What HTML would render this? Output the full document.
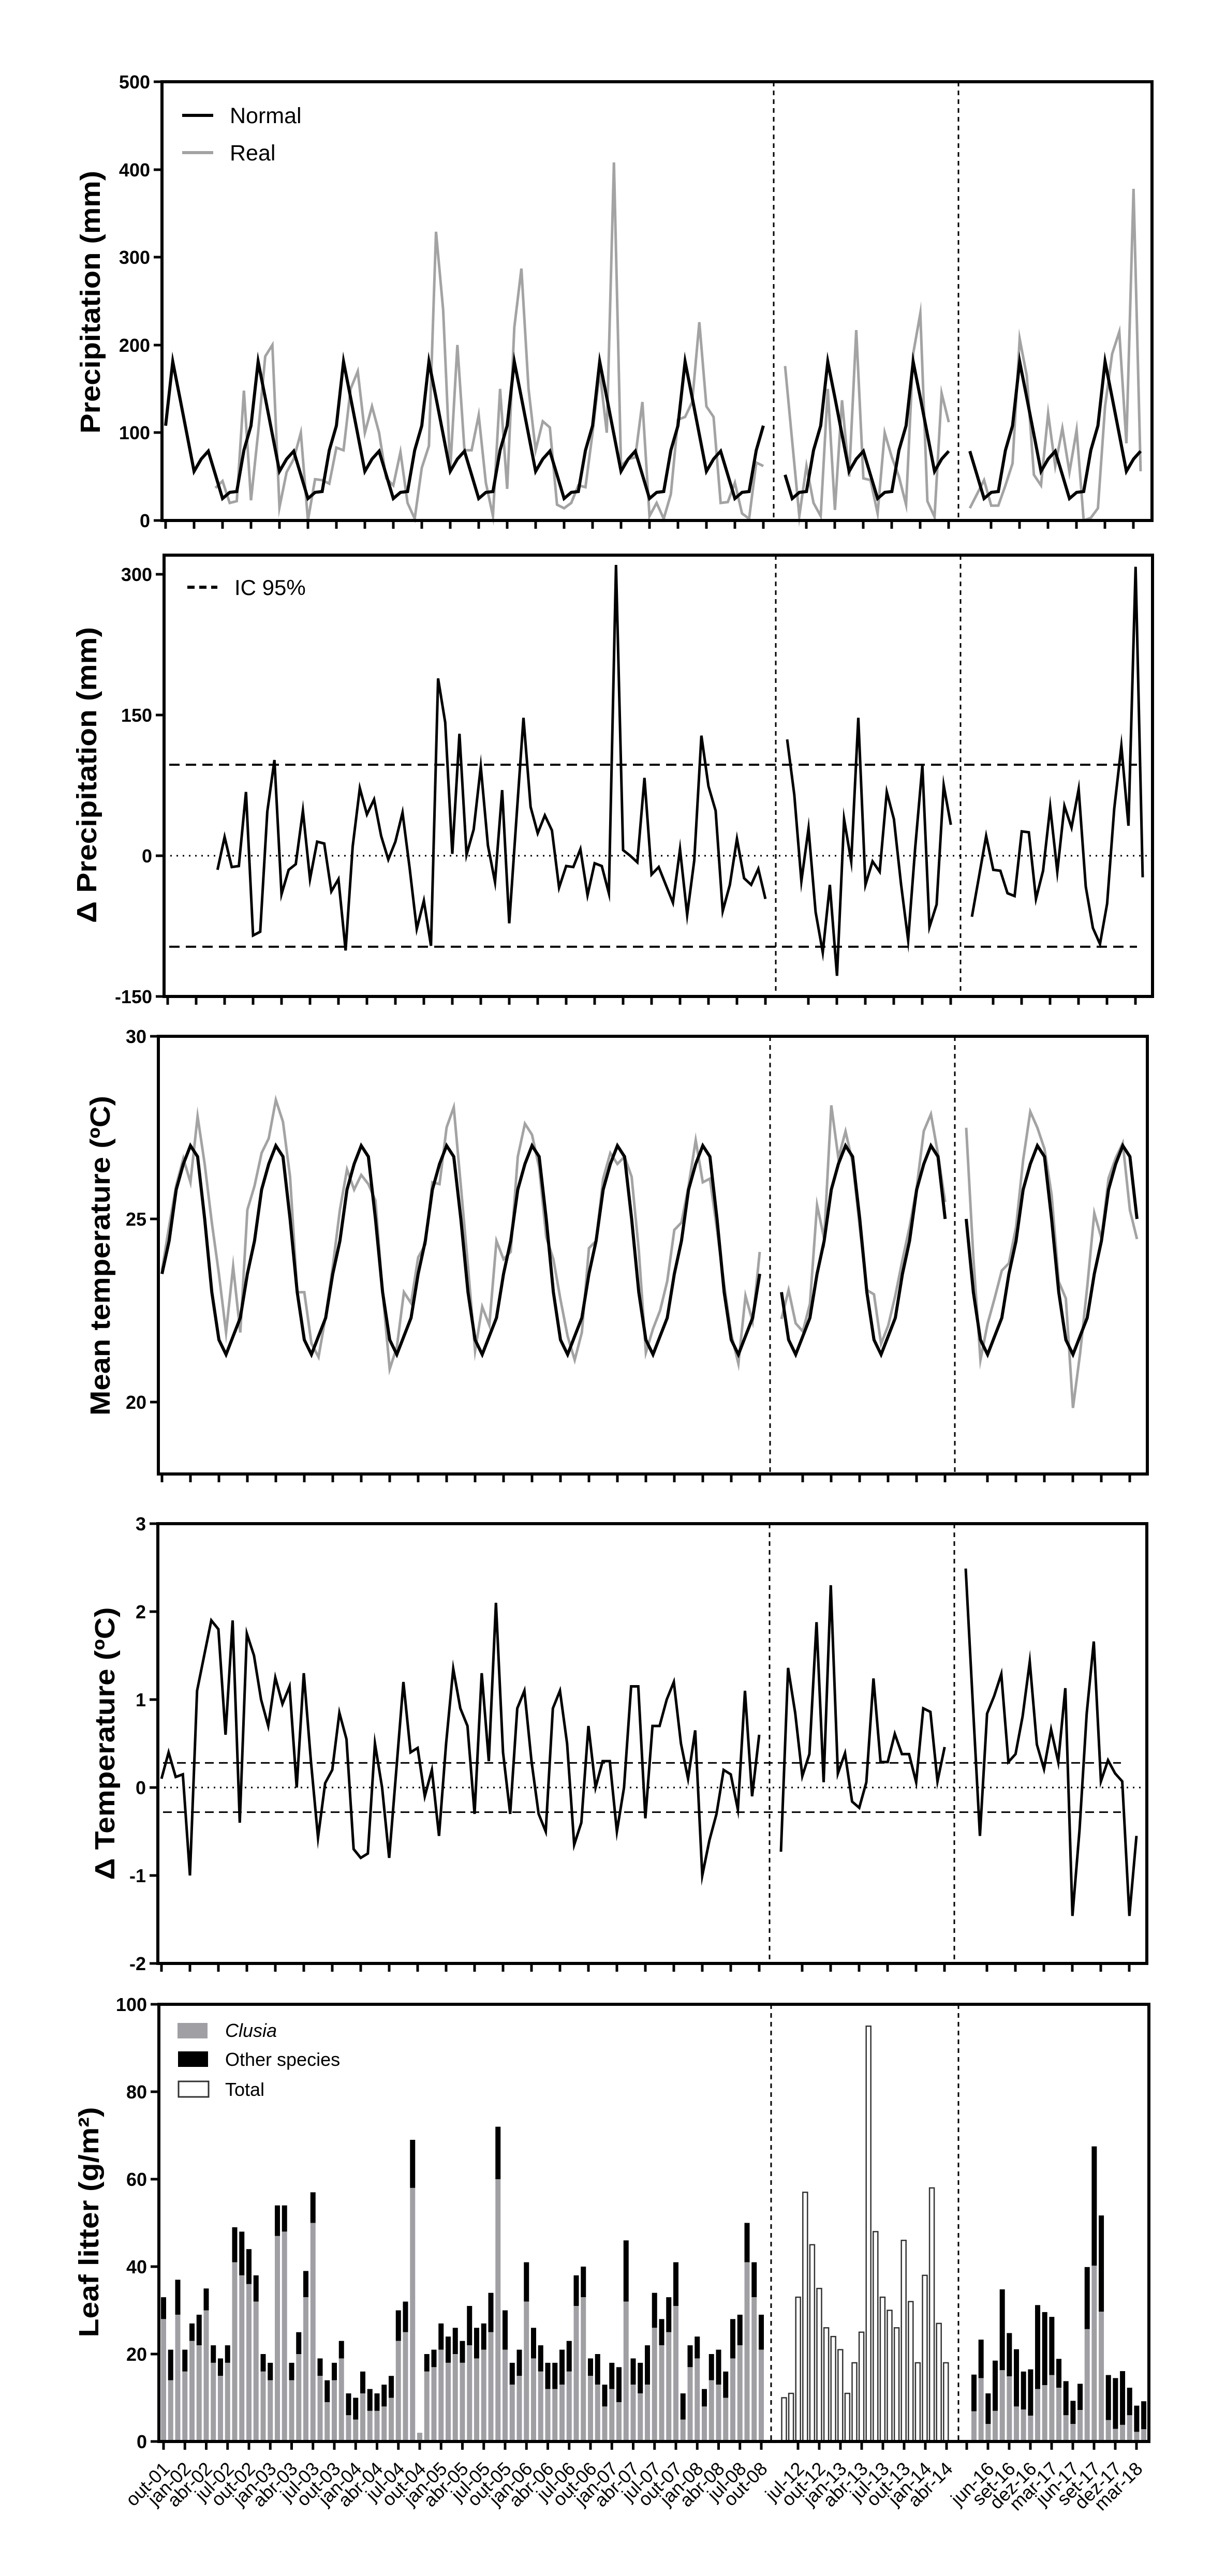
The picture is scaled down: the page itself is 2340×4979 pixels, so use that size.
<!DOCTYPE html>
<html><head><meta charset="utf-8">
<style>
html,body{margin:0;padding:0;background:#fff;}
svg{display:block;}
text{font-family:"Liberation Sans",Arial,sans-serif;}
.tl{font-size:36px;font-weight:bold;text-anchor:end;}
.tt{font-size:54px;font-weight:bold;text-anchor:middle;}
.xl{font-size:36px;text-anchor:end;}
</style></head>
<body>
<svg id="s" width="2340" height="4979" viewBox="0 0 2340 4979" xmlns="http://www.w3.org/2000/svg">
<rect width="2340" height="4979" fill="#fff"/>
<g id="g"></g>
<text class="tt" transform="translate(193,584) rotate(-90)" textLength="508" lengthAdjust="spacingAndGlyphs">Precipitation (mm)</text>
<text class="tt" transform="translate(186,1498) rotate(-90)" textLength="572" lengthAdjust="spacingAndGlyphs">Δ Precipitation (mm)</text>
<text class="tt" transform="translate(212,2427) rotate(-90)" textLength="618" lengthAdjust="spacingAndGlyphs">Mean temperature (ºC)</text>
<text class="tt" transform="translate(221,3370) rotate(-90)" textLength="527" lengthAdjust="spacingAndGlyphs">Δ Temperature (ºC)</text>
<text class="tt" transform="translate(190,4295) rotate(-90)" textLength="445" lengthAdjust="spacingAndGlyphs">Leaf litter (g/m²)</text>
<text class="tl" x="290" y="171">500</text>
<text class="tl" x="290" y="341">400</text>
<text class="tl" x="290" y="510">300</text>
<text class="tl" x="290" y="680">200</text>
<text class="tl" x="290" y="849">100</text>
<text class="tl" x="290" y="1019">0</text>
<text class="tl" x="294" y="1123">300</text>
<text class="tl" x="294" y="1395">150</text>
<text class="tl" x="294" y="1667">0</text>
<text class="tl" x="294" y="1939">-150</text>
<text class="tl" x="283" y="2016">30</text>
<text class="tl" x="283" y="2369">25</text>
<text class="tl" x="283" y="2723">20</text>
<text class="tl" x="282" y="2958">3</text>
<text class="tl" x="282" y="3128">2</text>
<text class="tl" x="282" y="3298">1</text>
<text class="tl" x="282" y="3468">0</text>
<text class="tl" x="282" y="3638">-1</text>
<text class="tl" x="282" y="3808">-2</text>
<text class="tl" x="284" y="3887">100</text>
<text class="tl" x="284" y="4056">80</text>
<text class="tl" x="284" y="4225">60</text>
<text class="tl" x="284" y="4394">40</text>
<text class="tl" x="284" y="4563">20</text>
<text class="tl" x="284" y="4732">0</text>
<line x1="352" y1="223" x2="412" y2="223" stroke="#000" stroke-width="6"/>
<text x="444" y="238" font-size="43">Normal</text>
<line x1="352" y1="295" x2="412" y2="295" stroke="#a3a3a3" stroke-width="6"/>
<text x="444" y="310" font-size="43">Real</text>
<line x1="362" y1="1135" x2="420" y2="1135" stroke="#000" stroke-width="6" stroke-dasharray="14,9"/>
<text x="453" y="1150" font-size="42">IC 95%</text>
<rect x="343" y="3910" width="58" height="30" fill="#a0a0a4"/>
<text x="435" y="3937" font-size="36" font-style="italic">Clusia</text>
<rect x="344" y="3965" width="58" height="30" fill="#000"/>
<text x="435" y="3993" font-size="36">Other species</text>
<rect x="345" y="4023" width="58" height="30" fill="#fff" stroke="#333" stroke-width="3"/>
<text x="435" y="4051" font-size="36">Total</text>
<g id="xl">
<text class="xl" transform="translate(330,4774) rotate(-45)">out-01</text>
<text class="xl" transform="translate(371,4774) rotate(-45)">jan-02</text>
<text class="xl" transform="translate(412,4774) rotate(-45)">abr-02</text>
<text class="xl" transform="translate(454,4774) rotate(-45)">jul-02</text>
<text class="xl" transform="translate(495,4774) rotate(-45)">out-02</text>
<text class="xl" transform="translate(536,4774) rotate(-45)">jan-03</text>
<text class="xl" transform="translate(577,4774) rotate(-45)">abr-03</text>
<text class="xl" transform="translate(619,4774) rotate(-45)">jul-03</text>
<text class="xl" transform="translate(660,4774) rotate(-45)">out-03</text>
<text class="xl" transform="translate(701,4774) rotate(-45)">jan-04</text>
<text class="xl" transform="translate(742,4774) rotate(-45)">abr-04</text>
<text class="xl" transform="translate(784,4774) rotate(-45)">jul-04</text>
<text class="xl" transform="translate(825,4774) rotate(-45)">out-04</text>
<text class="xl" transform="translate(866,4774) rotate(-45)">jan-05</text>
<text class="xl" transform="translate(907,4774) rotate(-45)">abr-05</text>
<text class="xl" transform="translate(949,4774) rotate(-45)">jul-05</text>
<text class="xl" transform="translate(990,4774) rotate(-45)">out-05</text>
<text class="xl" transform="translate(1031,4774) rotate(-45)">jan-06</text>
<text class="xl" transform="translate(1072,4774) rotate(-45)">abr-06</text>
<text class="xl" transform="translate(1114,4774) rotate(-45)">jul-06</text>
<text class="xl" transform="translate(1155,4774) rotate(-45)">out-06</text>
<text class="xl" transform="translate(1196,4774) rotate(-45)">jan-07</text>
<text class="xl" transform="translate(1237,4774) rotate(-45)">abr-07</text>
<text class="xl" transform="translate(1279,4774) rotate(-45)">jul-07</text>
<text class="xl" transform="translate(1320,4774) rotate(-45)">out-07</text>
<text class="xl" transform="translate(1361,4774) rotate(-45)">jan-08</text>
<text class="xl" transform="translate(1402,4774) rotate(-45)">abr-08</text>
<text class="xl" transform="translate(1444,4774) rotate(-45)">jul-08</text>
<text class="xl" transform="translate(1485,4774) rotate(-45)">out-08</text>
<text class="xl" transform="translate(1556,4774) rotate(-45)">jul-12</text>
<text class="xl" transform="translate(1597,4774) rotate(-45)">out-12</text>
<text class="xl" transform="translate(1638,4774) rotate(-45)">jan-13</text>
<text class="xl" transform="translate(1679,4774) rotate(-45)">abr-13</text>
<text class="xl" transform="translate(1720,4774) rotate(-45)">jul-13</text>
<text class="xl" transform="translate(1761,4774) rotate(-45)">out-13</text>
<text class="xl" transform="translate(1802,4774) rotate(-45)">jan-14</text>
<text class="xl" transform="translate(1843,4774) rotate(-45)">abr-14</text>
<text class="xl" transform="translate(1923,4774) rotate(-45)">jun-16</text>
<text class="xl" transform="translate(1964,4774) rotate(-45)">set-16</text>
<text class="xl" transform="translate(2005,4774) rotate(-45)">dez-16</text>
<text class="xl" transform="translate(2046,4774) rotate(-45)">mar-17</text>
<text class="xl" transform="translate(2087,4774) rotate(-45)">jun-17</text>
<text class="xl" transform="translate(2128,4774) rotate(-45)">set-17</text>
<text class="xl" transform="translate(2169,4774) rotate(-45)">dez-17</text>
<text class="xl" transform="translate(2210,4774) rotate(-45)">mar-18</text>
</g>
</svg>
<script>
(function(){
var NS="http://www.w3.org/2000/svg",g=document.getElementById("g");
function el(n,a){var e=document.createElementNS(NS,n);for(var k in a)e.setAttribute(k,a[k]);g.appendChild(e);return e;}
function line(x1,y1,x2,y2,c,w,d){var a={x1:x1,y1:y1,x2:x2,y2:y2,stroke:c,"stroke-width":w};if(d)a["stroke-dasharray"]=d;return el("line",a);}
function poly(pts,c,w){el("polyline",{points:pts.map(function(p){return p[0].toFixed(1)+","+p[1].toFixed(1)}).join(" "),fill:"none",stroke:c,"stroke-width":w,"stroke-linejoin":"miter","stroke-miterlimit":"10"});}
var PN=[98,56,70,79,52,25,32,33,80,108,181,140];
var TN=[26.5,27.0,26.7,25.0,23.0,21.7,21.3,21.8,22.3,23.5,24.4,25.8];
var starts=[9,4,3],lens=[85,24,25];
function xs(L,p,i){return L+[7,1204,1561][p]+13.75*i;}
var R1=[37,45,20,22,148,23,100,187,200,15,55,70,100,0,47,46,42,83,80,150,170,100,130,100,48,40,78,20,2,60,85,329,240,58,200,80,80,120,43,5,150,36,220,287,150,80,113,106,18,14,20,40,38,100,170,100,408,62,70,72,135,5,20,2,30,115,118,135,226,130,118,20,21,43,8,2,66,62];
var R2=[176,90,5,62,20,5,150,12,137,50,217,48,46,8,100,72,50,18,190,236,22,4,145,112];
var R3=[14,30,46,17,17,40,65,207,165,52,40,122,62,105,55,103,0,3,14,130,190,215,88,378,56];
var DT1=[0.1,0.4,0.12,0.15,-1.0,1.1,1.5,1.9,1.8,0.6,1.9,-0.4,1.75,1.5,1.0,0.7,1.25,0.95,1.15,0.0,1.3,0.3,-0.57,0.05,0.2,0.85,0.55,-0.7,-0.8,
-0.75,0.5,0.0,-0.8,0.2,1.2,0.4,0.45,-0.1,0.2,-0.55,0.5,1.35,0.9,0.7,-0.3,1.3,0.3,2.1,0.4,-0.3,0.9,1.1,0.3,-0.3,-0.5,0.9,1.1,0.5,-0.65,-0.4,0.7,0.0,0.3,0.3,-0.5,0.0,1.15,1.15,-0.35,0.7,0.7,1.0,1.2,0.5,0.1,0.65,-1.0,-0.6,-0.3,0.2,0.15,-0.25,1.1,-0.1,0.6];
var DT2=[-0.73,1.36,0.85,0.13,0.38,1.88,0.06,2.3,0.16,0.39,-0.16,-0.23,0.06,1.24,0.29,0.29,0.61,0.38,0.38,0.06,0.9,0.86,0.07,0.46];
var DT3=[2.49,0.95,-0.55,0.84,1.04,1.29,0.29,0.38,0.81,1.43,0.49,0.21,0.66,0.29,1.13,-1.46,-0.48,0.84,1.66,0.07,0.31,0.16,0.07,-1.46,-0.55];
var DT=[DT1,DT2,DT3];
function m(p,i){return (starts[p]+i)%12;}
function frame(L,R,T,B){el("rect",{x:L,y:T,width:R-L,height:B-T,fill:"none",stroke:"#000","stroke-width":6});}
function vdash(L,T,B){line(L+1182,T,L+1182,B,"#000",3,"9,8");line(L+1539,T,L+1539,B,"#000",3,"9,8");}
function xticks(L,B){
 for(var k=0;k<22;k++)line(L+7+55*k,B,L+7+55*k,B+16,"#000",5);
 for(k=0;k<6;k++){line(L+1245+55*k,B,L+1245+55*k,B+16,"#000",5);line(L+1602+55*k,B,L+1602+55*k,B+16,"#000",5);}
}
function yticks(L,ys){ys.forEach(function(y){line(L-16,y,L,y,"#000",5);});}
var L=313,R=2226,T=158,B=1006;
function y1(v){return 1006-v*1.696;}
vdash(L,T,B);
[0,1,2].forEach(function(p){
 var real=[R1,R2,R3][p],pts=[],nr=[];
 var off=p==0?7:0;
 for(var i=0;i<real.length;i++)pts.push([xs(L,p,i+off),y1(real[i])]);
 poly(pts,"#a3a3a3",5);
 for(i=0;i<lens[p];i++)nr.push([xs(L,p,i),y1(PN[m(p,i)])]);
 poly(nr,"#000",6);
});
frame(L,R,T,B);xticks(L,B);yticks(L,[158,328,497,667,836,1006]);
L=317;R=2227;T=1073;B=1926;
function y2(v){return 1654-v*1.8133;}
vdash(L,T,B);
line(L,y2(0),R,y2(0),"#000",3,"3,9");
line(L+10,y2(97),R-30,y2(97),"#000",4,"20,12");
line(L+10,y2(-97),R-30,y2(-97),"#000",4,"20,12");
[0,1,2].forEach(function(p){
 var real=[R1,R2,R3][p],pts=[],off=p==0?7:0;
 for(var i=0;i<real.length;i++)pts.push([xs(L,p,i+off),y2(real[i]-PN[m(p,i+off)])]);
 poly(pts,"#000",5);
});
frame(L,R,T,B);xticks(L,B);yticks(L,[1110,1382,1654,1926]);
L=306;R=2217;T=2003;B=2849;
function y3(v){return 2356-(v-25)*70.8;}
vdash(L,T,B);
[0,1,2].forEach(function(p){
 var pts=[],nr=[];
 for(var i=0;i<lens[p];i++){var n=TN[m(p,i)];nr.push([xs(L,p,i),y3(n)]);pts.push([xs(L,p,i),y3(n+DT[p][i])]);}
 poly(pts,"#a3a3a3",5);poly(nr,"#000",6);
});
frame(L,R,T,B);xticks(L,B);yticks(L,[2003,2356,2710]);
L=305;R=2216;T=2945;B=3795;
function y4(v){return 3455-v*170;}
vdash(L,T,B);
line(L,y4(0),R,y4(0),"#000",3,"3,9");
line(L+10,y4(0.28),R-50,y4(0.28),"#000",3,"17,10");
line(L+10,y4(-0.28),R-50,y4(-0.28),"#000",3,"17,10");
[0,1,2].forEach(function(p){
 var pts=[];for(var i=0;i<lens[p];i++)pts.push([xs(L,p,i),y4(DT[p][i])]);
 poly(pts,"#000",5);
});
frame(L,R,T,B);xticks(L,B);yticks(L,[2945,3115,3285,3455,3625,3795]);
L=307;R=2220;T=3874;B=4719;
function y5(v){return 4719-v*8.45;}
line(1490,T,1490,B,"#000",3,"9,8");line(1852,T,1852,B,"#000",3,"9,8");
var B1=[[33,28],[21,14],[37,29],[21,16],[27,23],[29,22],[35,30],[22,18],[19,15],[22,18],[49,41],[48,38],[44,36],[38,32],[20,16],[18,14],[54,47],[54,48],[18,14],[25,20],[39,33],[57,50],[19,15],[14,9],[18,14],[23,19],[11,6],[10,5],[16,11],[12,7],[11,7],[13,8],[15,10],[30,23],[32,25],[69,58],[2,2],[20,16],[21,17],[27,21],[24,18],[26,20],[23,18],[31,22],[26,19],[27,21],[34,25],[72,60],[30,21],[18,13],[21,15],[41,32],[26,19],[22,16],[18,12],[18,12],[21,13],[23,16],[38,31],[40,33],[19,15],[20,13],[13,8],[18,12],[17,9],[46,32],[19,13],[18,11],[22,13],[34,26],[28,22],[33,25],[41,31],[11,5],[22,17],[24,19],[12,8],[20,14],[21,13],[16,10],[28,19],[29,22],[50,41],[41,33],[29,21]];
var B2=[10,11,33,57,45,35,26,24,21,11,18,25,95,48,33,30,26,46,32,18,38,58,27,18];
var B3=[[15.3,6.9],[23.3,14.5],[11,4],[18.5,7],[34.8,16.3],[24.8,14.9],[21.1,8],[16,7.3],[16.5,5.9],[31.2,12],[29.6,12.9],[28.5,15.2],[18.9,12.3],[13.8,6],[9.3,4],[13.2,7.2],[39.9,25.7],[67.5,40.2],[51.7,29.7],[15.2,4.9],[14.5,2.9],[16.1,3.8],[12.3,6],[8.2,2.2],[9.2,2.8]];
function sbar(x,t,c){
 el("rect",{x:x-5,y:y5(t),width:10,height:y5(c)-y5(t),fill:"#000"});
 el("rect",{x:x-5,y:y5(c),width:10,height:B-y5(c),fill:"#a0a0a4"});
}
B1.forEach(function(b,i){sbar(316+13.75*i,b[0],b[1]);});
B3.forEach(function(b,i){sbar(1882+13.67*i,b[0],b[1]);});
B2.forEach(function(v,i){var x=1515+13.6*i;el("rect",{x:x-4.5,y:y5(v),width:9,height:B-y5(v),fill:"#fff",stroke:"#333","stroke-width":2.5});});
frame(L,R,T,B);
for(var k=0;k<29;k++)line(316+41.25*k,B,316+41.25*k,B+16,"#000",5);
for(k=0;k<8;k++)line(1542+41*k,B,1542+41*k,B+16,"#000",5);
for(k=0;k<9;k++)line(1868+41*k,B,1868+41*k,B+16,"#000",5);
yticks(L,[3874,4043,4212,4381,4550,4719]);
})();
</script>
</body></html>
